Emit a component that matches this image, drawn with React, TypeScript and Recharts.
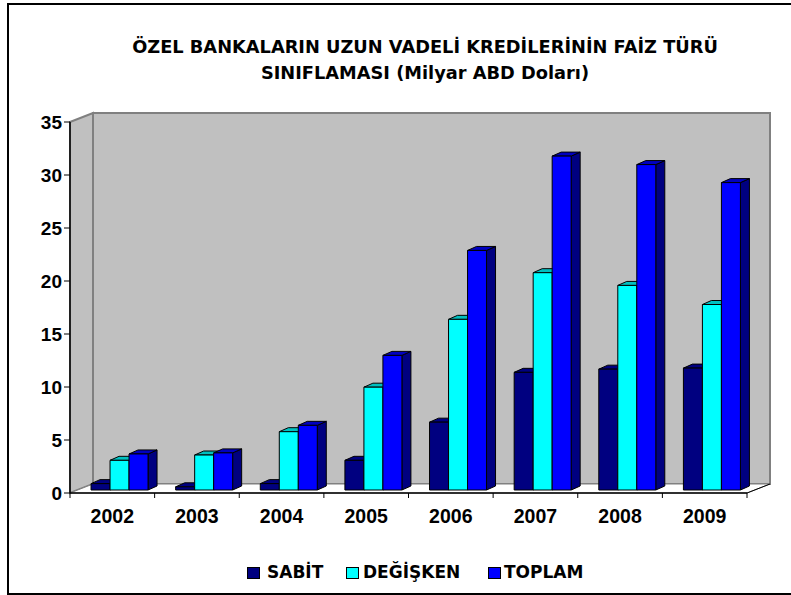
import { BarChart, Bar, XAxis, YAxis, ReferenceArea } from "recharts";

const years = ["2002", "2003", "2004", "2005", "2006", "2007", "2008", "2009"];
const sabit = [0.6, 0.3, 0.6, 2.8, 6.4, 11.1, 11.4, 11.5];
const degisken = [2.8, 3.3, 5.5, 9.7, 16.1, 20.5, 19.3, 17.5];
const toplam = [3.4, 3.5, 6.1, 12.7, 22.6, 31.5, 30.7, 29.0];
const yTicks = [0, 5, 10, 15, 20, 25, 30, 35];

const seriesNames = ["SABİT", "DEĞİŞKEN", "TOPLAM"];
const titleLines = [
  "ÖZEL BANKALARIN UZUN VADELİ KREDİLERİNİN FAİZ TÜRÜ",
  "SINIFLAMASI (Milyar ABD Doları)",
];

const data = years.map((year, i) => ({
  year,
  sabit: sabit[i],
  degisken: degisken[i],
  toplam: toplam[i],
}));

const colors = [
  { front: "#000080", top: "#000080", side: "#000066" },
  { front: "#00FFFF", top: "#00C0C0", side: "#009999" },
  { front: "#0000FF", top: "#0000C0", side: "#000080" },
];

// walls depth and bar depth
const WALL_DX = 23;
const WALL_DY = -9;
const BAR_SHIFT_X = 7.5;
const BAR_SHIFT_Y = -3;
const BAR_DX = 9;
const BAR_DY = -4;

const FONT = "'DejaVu Sans', sans-serif";
const TICK_FONT = "'Liberation Sans', Arial, sans-serif";

// legend item x positions (square, text)
const legendX = [
  [247, 267],
  [346, 363],
  [488, 504],
];

function box3d(c: { front: string; top: string; side: string }) {
  return (props: any) => {
    const { x, y, width, height } = props;
    if (height == null || width == null) return null;
    const fx = x + BAR_SHIFT_X;
    const fy = y + BAR_SHIFT_Y;
    const w = width;
    const h = Math.max(height, 0);
    return (
      <g stroke="#000" strokeWidth={1} strokeLinejoin="round">
        <polygon
          points={`${fx + w},${fy} ${fx + w + BAR_DX},${fy + BAR_DY} ${fx + w + BAR_DX},${fy + h + BAR_DY} ${fx + w},${fy + h}`}
          fill={c.side}
        />
        <polygon
          points={`${fx},${fy} ${fx + w},${fy} ${fx + w + BAR_DX},${fy + BAR_DY} ${fx + BAR_DX},${fy + BAR_DY}`}
          fill={c.top}
        />
        <rect x={fx} y={fy} width={w} height={h} fill={c.front} />
      </g>
    );
  };
}

function Walls(props: any) {
  const { x, y, width, height } = props;
  const bottom = y + height;
  const right = x + width;
  return (
    <g>
      <rect
        x={x + WALL_DX}
        y={y + WALL_DY}
        width={width}
        height={height}
        fill="#C0C0C0"
        stroke="#808080"
        strokeWidth={2}
      />
      <polygon
        points={`${x},${y} ${x + WALL_DX},${y + WALL_DY} ${x + WALL_DX},${bottom + WALL_DY} ${x},${bottom}`}
        fill="#C0C0C0"
        stroke="#808080"
        strokeWidth={2}
      />
      <polygon
        points={`${x},${bottom} ${x + WALL_DX},${bottom + WALL_DY} ${right + WALL_DX},${bottom + WALL_DY} ${right},${bottom}`}
        fill="#FFFFFF"
        stroke="#808080"
        strokeWidth={1}
      />
      <line
        x1={right}
        y1={bottom}
        x2={right + WALL_DX}
        y2={bottom + WALL_DY}
        stroke="#000"
        strokeWidth={1}
      />
    </g>
  );
}

const BAND = 677 / years.length;

function YearTick(props: any) {
  const { x, y, payload, index } = props;
  return (
    <g>
      {index === 0 && (
        <line x1={x - BAND / 2} y1={y} x2={x - BAND / 2} y2={y + 5} stroke="#000" />
      )}
      <line x1={x + BAND / 2} y1={y} x2={x + BAND / 2} y2={y + 5} stroke="#000" />
      <text
        x={x}
        y={y + 30}
        textAnchor="middle"
        fontFamily={TICK_FONT}
        fontWeight="bold"
        fontSize={19.5}
        fill="#000"
      >
        {payload.value}
      </text>
    </g>
  );
}

export default function App() {
  const keys = ["sabit", "degisken", "toplam"];
  return (
    <div
      style={{
        position: "fixed",
        left: 0,
        top: 0,
        width: 791,
        height: 595,
        overflow: "hidden",
        background: "#fff",
      }}
    >
      <div
        style={{
          position: "absolute",
          left: 7,
          top: 3,
          width: 800,
          height: 592,
          border: "2px solid #000",
          boxSizing: "border-box",
        }}
      />
      <div
        style={{
          position: "absolute",
          left: 0,
          top: 34,
          width: 850,
          textAlign: "center",
          fontFamily: FONT,
          fontWeight: "bold",
          fontSize: 17.8,
          lineHeight: "26px",
          color: "#000",
        }}
      >
        {titleLines.map((t) => (
          <div key={t}>{t}</div>
        ))}
      </div>
      <div style={{ position: "absolute", left: 0, top: 0 }}>
        <BarChart
          width={791}
          height={595}
          data={data}
          margin={{ top: 122, right: 44, left: 10, bottom: 72 }}
          barCategoryGap="16%"
          barGap={0}
        >
          <ReferenceArea y1={0} y2={35} shape={Walls} ifOverflow="visible" />
          <XAxis
            dataKey="year"
            height={30}
            axisLine={{ stroke: "#000", strokeWidth: 1.5 }}
            tickLine={false}
            tickSize={0}
            tickMargin={0}
            interval={0}
            tick={<YearTick />}
          />
          <YAxis
            width={60}
            domain={[0, 35]}
            ticks={yTicks}
            interval={0}
            axisLine={{ stroke: "#000", strokeWidth: 1.5 }}
            tickLine={{ stroke: "#000" }}
            tickSize={6}
            tick={{
              fill: "#000",
              fontSize: 19,
              fontWeight: "bold",
              fontFamily: TICK_FONT,
            }}
          />
          {keys.map((k, i) => (
            <Bar
              key={k}
              dataKey={k}
              name={seriesNames[i]}
              shape={box3d(colors[i])}
              isAnimationActive={false}
            />
          ))}
        </BarChart>
      </div>
      {seriesNames.map((n, i) => (
        <div key={n}>
          <span
            style={{
              position: "absolute",
              left: legendX[i][0],
              top: 567,
              width: 11,
              height: 10,
              background: colors[i].front,
              border: "1px solid #000",
            }}
          />
          <span
            style={{
              position: "absolute",
              left: legendX[i][1],
              top: 561,
              fontFamily: FONT,
              fontWeight: "bold",
              fontSize: 17,
              lineHeight: "22px",
              color: "#000",
            }}
          >
            {n}
          </span>
        </div>
      ))}
    </div>
  );
}
